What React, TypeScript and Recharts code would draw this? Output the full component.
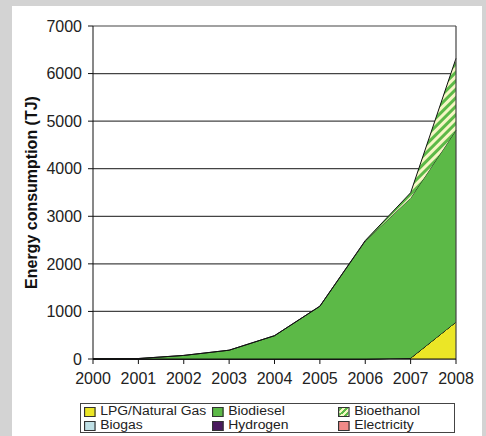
import React from 'react';
import {
  AreaChart,
  Area,
  XAxis,
  YAxis,
  CartesianGrid,
  ReferenceLine,
} from 'recharts';

const years = ['2000', '2001', '2002', '2003', '2004', '2005', '2006', '2007', '2008'];
const lpg = [0, 0, 0, 0, 0, 0, 0, 20, 780];
const biogas = [0, 0, 0, 0, 0, 0, 0, 0, 0];
const hydrogen = [0, 0, 0, 0, 0, 0, 0, 0, 0];
const electricity = [0, 0, 0, 0, 0, 0, 0, 0, 0];
const biodiesel = [0, 10, 75, 185, 490, 1110, 2480, 3365, 4030];
const bioethanol = [0, 0, 0, 0, 0, 0, 10, 110, 1510];
const yTicks = [0, 1000, 2000, 3000, 4000, 5000, 6000, 7000];

const data = years.map((year, i) => ({
  year,
  lpg: lpg[i],
  biogas: biogas[i],
  hydrogen: hydrogen[i],
  electricity: electricity[i],
  biodiesel: biodiesel[i],
  bioethanol: bioethanol[i],
}));

const FONT = '"Liberation Sans", Arial, sans-serif';
const GREEN = '#5cb947';
const YELLOW = '#ebe626';

// legend rows, in the order of the original figure
const legendItems = [
  { name: 'LPG/Natural Gas', color: YELLOW },
  { name: 'Biodiesel', color: GREEN },
  { name: 'Bioethanol', color: 'stripes' },
  { name: 'Biogas', color: '#bfe0e6' },
  { name: 'Hydrogen', color: '#4a1a5e' },
  { name: 'Electricity', color: '#f08a88' },
];
const legendCols = [3, 131, 257];

function Marker({ color }: { color: string }) {
  const style: React.CSSProperties = {
    position: 'absolute',
    left: 0,
    top: 2,
    width: 8,
    height: 8,
    border: '1px solid #333',
    background:
      color === 'stripes'
        ? `repeating-linear-gradient(135deg, ${GREEN} 0 2px, #f6f6c4 2px 4px)`
        : color,
  };
  return <span style={style} />;
}

const tickStyle = { fontSize: 16, fill: '#222', fontFamily: FONT };

export default function App() {
  return (
    <div
      style={{
        position: 'absolute',
        left: 0,
        top: 0,
        width: 486,
        height: 436,
        background: '#d3d3d3',
        fontFamily: FONT,
      }}
    >
      <div
        style={{
          position: 'absolute',
          left: 12,
          top: 6,
          width: 470,
          height: 430,
          background: '#fff',
        }}
      />
      <div style={{ position: 'absolute', left: 0, top: 0 }}>
        <AreaChart
          width={486}
          height={436}
          data={data}
          margin={{ top: 26, right: 30, bottom: 47, left: 0 }}
          style={{ fontFamily: FONT, fontSize: 16 }}
        >
          <defs>
            <pattern
              id="stripes"
              patternUnits="userSpaceOnUse"
              width="6"
              height="6"
              patternTransform="rotate(45)"
            >
              <rect x="0" y="0" width="6" height="6" fill="#f6f6c4" />
              <rect x="0" y="0" width="3" height="6" fill={GREEN} />
            </pattern>
          </defs>
          <CartesianGrid vertical={false} stroke="#444" strokeWidth={1.2} />
          <XAxis
            dataKey="year"
            interval={0}
            tickSize={5}
            tickMargin={9}
            stroke="#111"
            fontSize={16}
            tick={tickStyle}
          />
          <YAxis
            width={93}
            domain={[0, 7000]}
            ticks={yTicks}
            tickSize={5}
            tickMargin={6}
            stroke="#111"
            fontSize={16}
            tick={tickStyle}
            label={{
              value: 'Energy consumption (TJ)',
              content: ({ viewBox }: any) => (
                <text
                  x={viewBox.x + 31}
                  y={viewBox.y + viewBox.height / 2}
                  transform={`rotate(-90, ${viewBox.x + 31}, ${viewBox.y + viewBox.height / 2})`}
                  textAnchor="middle"
                  dominantBaseline="central"
                  fontSize={16}
                  fontWeight="bold"
                  fill="#111"
                  fontFamily={FONT}
                >
                  Energy consumption (TJ)
                </text>
              ),
            }}
          />
          <ReferenceLine x="2008" stroke="#444" strokeWidth={1.2} />
          <Area type="linear" dataKey="lpg" name="LPG/Natural Gas" stackId="1" fill={YELLOW} fillOpacity={1} stroke="#111" strokeWidth={1} isAnimationActive={false} />
          <Area type="linear" dataKey="biogas" name="Biogas" stackId="1" fill="#bfe0e6" fillOpacity={1} stroke="#111" strokeWidth={1} isAnimationActive={false} />
          <Area type="linear" dataKey="hydrogen" name="Hydrogen" stackId="1" fill="#4a1a5e" fillOpacity={1} stroke="#111" strokeWidth={1} isAnimationActive={false} />
          <Area type="linear" dataKey="electricity" name="Electricity" stackId="1" fill="#f08a88" fillOpacity={1} stroke="#111" strokeWidth={1} isAnimationActive={false} />
          <Area type="linear" dataKey="biodiesel" name="Biodiesel" stackId="1" fill={GREEN} fillOpacity={1} stroke="#111" strokeWidth={1} isAnimationActive={false} />
          <Area type="linear" dataKey="bioethanol" name="Bioethanol" stackId="1" fill="url(#stripes)" fillOpacity={1} stroke="#111" strokeWidth={1} isAnimationActive={false} />
        </AreaChart>
      </div>
      <div
        style={{
          position: 'absolute',
          left: 80,
          top: 403,
          width: 373,
          height: 28,
          border: '1.5px solid #444',
          background: '#fff',
          fontSize: 12,
          lineHeight: '13px',
          color: '#222',
        }}
      >
        {legendItems.map((item, i) => (
          <div
            key={item.name}
            style={{
              position: 'absolute',
              left: legendCols[i % 3],
              top: 1 + Math.floor(i / 3) * 14,
              paddingLeft: 14,
              whiteSpace: 'nowrap',
              transform: 'scaleX(1.16)',
              transformOrigin: 'left center',
            }}
          >
            <Marker color={item.color} />
            {item.name}
          </div>
        ))}
      </div>
    </div>
  );
}
